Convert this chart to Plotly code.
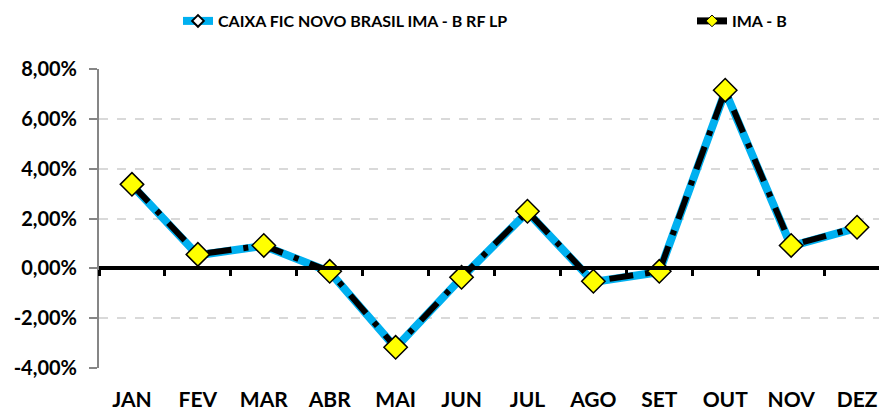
import plotly.graph_objects as go

months = ["JAN", "FEV", "MAR", "ABR", "MAI", "JUN", "JUL", "AGO", "SET", "OUT", "NOV", "DEZ"]
fund_name = "CAIXA FIC NOVO BRASIL IMA - B RF LP"
bench_name = "IMA - B"
fund_values = [3.33, 0.53, 0.90, -0.14, -3.19, -0.38, 2.26, -0.55, -0.15, 7.10, 0.89, 1.62]
bench_values = [3.37, 0.56, 0.92, -0.12, -3.17, -0.36, 2.29, -0.52, -0.12, 7.15, 0.92, 1.65]
y_ticks = [-4, -2, 0, 2, 4, 6, 8]
y_tick_text = [f"{v:.2f}".replace(".", ",") + "%" for v in y_ticks]

FONT = "Lato, 'Open Sans', sans-serif"
BLUE = "#00B0F0"
fund_line = dict(color=BLUE, width=8)
bench_line = dict(color="black", width=6, dash="24px,12px,5px,12px")

fig = go.Figure()
# helper (no visible data) so the zero-line axis is drawn
fig.add_trace(go.Scatter(x=months, y=[None] * 12, xaxis="x2", showlegend=False, hoverinfo="skip"))
fig.add_trace(go.Scatter(
    x=months, y=fund_values, name=fund_name, mode="lines+markers", showlegend=False,
    line=fund_line,
    marker=dict(symbol="diamond", size=8, color=BLUE, line=dict(color="black", width=1.5)),
))
fig.add_trace(go.Scatter(
    x=months, y=bench_values, name=bench_name, mode="lines+markers", showlegend=False,
    line=bench_line,
    marker=dict(symbol="diamond", size=18, color="#FFFF00", line=dict(color="black", width=1.5)),
))
# legend entries (small symbols as in the reference)
fig.add_trace(go.Scatter(
    x=[None], y=[None], name=fund_name, mode="lines+markers", legend="legend",
    line=fund_line, hoverinfo="skip",
    marker=dict(symbol="diamond", size=9, color="white", line=dict(color="black", width=2)),
))
fig.add_trace(go.Scatter(
    x=[None], y=[None], name=bench_name, mode="lines+markers", legend="legend2",
    line=dict(color="black", width=7), hoverinfo="skip",
    marker=dict(symbol="diamond", size=9, color="#FFFF00", line=dict(color="black", width=1)),
))

legend_common = dict(
    orientation="h", xanchor="left", y=1 - 13 / 412, yanchor="middle",
    xref="container", yref="container", bgcolor="rgba(0,0,0,0)",
    font=dict(size=16, family=FONT, weight="bold", color="black"),
)

fig.update_layout(
    width=887, height=412,
    margin=dict(l=91, r=5, t=61, b=52, autoexpand=False),
    paper_bgcolor="white", plot_bgcolor="white",
    font=dict(family=FONT, color="black"),
    showlegend=True,
    legend=dict(x=170 / 887, **legend_common),
    legend2=dict(x=684 / 887, **legend_common),
    xaxis=dict(
        type="category", categoryorder="array", categoryarray=months,
        range=[-0.5, 11.5], showgrid=False, zeroline=False, showline=False,
        ticks="", automargin=False,
        tickfont=dict(size=21, family=FONT, weight="bold", color="black"),
        ticklabelstandoff=17,
    ),
    xaxis2=dict(
        type="category", categoryorder="array", categoryarray=months,
        overlaying="x", anchor="free", position=1 / 3, side="bottom",
        range=[-0.5, 11.5], showgrid=False, zeroline=False, automargin=False,
        showline=True, linecolor="black", linewidth=4,
        ticks="outside", tickson="boundaries", ticklen=6, tickwidth=3, tickcolor="black",
        showticklabels=False,
    ),
    yaxis=dict(
        range=[-4, 8], tickvals=y_ticks, ticktext=y_tick_text,
        showgrid=True, gridcolor="#D9D9D9", griddash="dash", gridwidth=1.5,
        zeroline=False, automargin=False,
        showline=True, linecolor="#868686", linewidth=2,
        ticks="outside", ticklen=8, tickcolor="#868686", tickwidth=2,
        tickfont=dict(size=20, family=FONT, weight="bold", color="black"),
        ticklabelstandoff=8,
    ),
)

fig.write_html("out.html")
